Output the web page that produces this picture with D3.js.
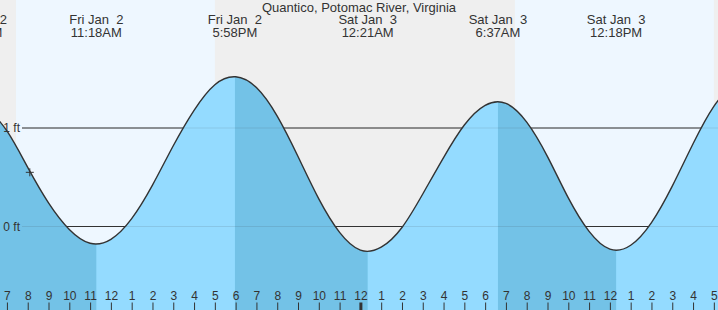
<!DOCTYPE html>
<html>
<head>
<meta charset="utf-8">
<script src="https://cdn.jsdelivr.net/npm/d3@7"></script>
<style>
  body { margin: 0; background: #efefef; }
  svg { display: block; font-family: "Liberation Sans", Arial, sans-serif; }
</style>
</head>
<body>
<svg></svg>
<script>
let width = 718, height = 310;

let title = "Quantico, Potomac River, Virginia";

// hourly predicted height (ft), from Fri Jan 2 06:00 to Sat Jan 3 18:00
let tideStart = "2026-01-02 06:00", tideEnd = "2026-01-03 19:00";
let tideHeights = [
  1.22, 0.97, 0.60, 0.24, -0.03, -0.17, -0.13, 0.08, 0.42, 0.82, 1.18, 1.44,
  1.52, 1.41, 1.12, 0.71, 0.28, -0.06, -0.24, -0.21, -0.01, 0.33, 0.70, 1.03,
  1.23, 1.25, 1.06, 0.71, 0.29, -0.05, -0.23, -0.19, 0.04, 0.41, 0.84, 1.22, 1.47
];

// high / low tides
let extremeTimes = ["2026-01-02 05:42", "2026-01-02 11:18", "2026-01-02 17:58",
                    "2026-01-03 00:21", "2026-01-03 06:37", "2026-01-03 12:18"];
let extremeTypes = ["H", "L", "H", "L", "H", "L"];

// daylight
let sunrise = ["2026-01-02 07:26", "2026-01-03 07:26"];
let sunset = ["2026-01-02 17:00", "2026-01-03 17:00"];

// current time marker
let nowTime = "2026-01-02 08:06", nowHeight = 0.55;

let gridLevels = [0, 1];

let parse = d3.timeParse("%Y-%m-%d %H:%M");

let svg = d3.select("svg")
    .attr("width", width)
    .attr("height", height);

let x = d3.scaleTime()
    .domain([parse("2026-01-02 06:40"), parse("2026-01-03 17:12")])
    .range([0, width]);

let y = d3.scaleLinear()
    .domain([0, 1])
    .range([226.5, 128]);

let tide = d3.timeHour.range(parse(tideStart), parse(tideEnd))
    .map((t, i) => ({ t: t, h: tideHeights[i] }));

let extremes = extremeTimes.map((s, i) => ({ t: parse(s), type: extremeTypes[i] }));

// sky: night gray, day light blue
svg.append("rect")
    .attr("width", width).attr("height", height)
    .attr("fill", "#efefef");

svg.append("g")
    .selectAll("rect")
    .data(sunrise)
    .enter()
    .append("rect")
    .attr("x", (d) => x(parse(d)))
    .attr("width", (d, i) => x(parse(sunset[i])) - x(parse(d)))
    .attr("y", 0)
    .attr("height", height)
    .attr("fill", "#eef7ff");

// grid lines (behind the water)
svg.append("g")
    .selectAll("line")
    .data(gridLevels)
    .enter()
    .append("line")
    .attr("x1", 22).attr("x2", width)
    .attr("y1", (d) => y(d)).attr("y2", (d) => y(d))
    .attr("stroke", "#333")
    .attr("stroke-width", 1);

let area = d3.area()
    .x((d) => x(d.t))
    .y0(height)
    .y1((d) => y(d.h))
    .curve(d3.curveNatural);

let line = d3.line()
    .x((d) => x(d.t))
    .y((d) => y(d.h))
    .curve(d3.curveNatural);

// falling tide (high -> low) is the darker blue
let falling = [];
extremes.forEach((e, i) => {
    if (e.type == "H" && extremes[i + 1]) falling.push([e.t, extremes[i + 1].t]);
});

let defs = svg.append("defs");
defs.append("clipPath")
    .attr("id", "fallclip")
    .selectAll("rect")
    .data(falling)
    .enter()
    .append("rect")
    .attr("x", (d) => x(d[0]))
    .attr("width", (d) => x(d[1]) - x(d[0]))
    .attr("y", 0)
    .attr("height", height);

svg.append("path")
    .datum(tide)
    .attr("d", area)
    .attr("fill", "#94dbff");

svg.append("path")
    .datum(tide)
    .attr("d", area)
    .attr("fill", "#73c2e7")
    .attr("clip-path", "url(#fallclip)");

// grid lines show faintly through the water
svg.append("g")
    .selectAll("line")
    .data(gridLevels)
    .enter()
    .append("line")
    .attr("x1", 22).attr("x2", width)
    .attr("y1", (d) => y(d)).attr("y2", (d) => y(d))
    .attr("stroke", "#333")
    .attr("stroke-opacity", 0.12);

svg.append("path")
    .datum(tide)
    .attr("d", line)
    .attr("fill", "none")
    .attr("stroke", "#333")
    .attr("stroke-width", 1.4);

// level labels sit on top of the water
svg.append("g")
    .selectAll("text")
    .data(gridLevels)
    .enter()
    .append("text")
    .attr("x", 20)
    .attr("y", (d) => y(d))
    .attr("dy", "0.36em")
    .attr("text-anchor", "end")
    .attr("font-size", 12)
    .attr("fill", "#333")
    .text((d) => d + " ft");

// current time cross
let nx = x(parse(nowTime)), ny = y(nowHeight);
svg.append("path")
    .attr("d", "M" + (nx - 4) + "," + ny + "H" + (nx + 4) + "M" + nx + "," + (ny - 4) + "V" + (ny + 4))
    .attr("stroke", "#333")
    .attr("stroke-width", 1)
    .attr("fill", "none");

// title and high/low labels
svg.append("text")
    .attr("x", width / 2)
    .attr("y", 12)
    .attr("text-anchor", "middle")
    .attr("font-size", 13)
    .attr("fill", "#333")
    .text(title);

let fmtDay = d3.timeFormat("%a %b %e");
let fmtTime = d3.timeFormat("%-I:%M%p");

let labels = svg.append("g")
    .selectAll("text")
    .data(extremes)
    .enter()
    .append("text")
    .attr("text-anchor", "middle")
    .attr("font-size", 13)
    .attr("fill", "#333")
    .style("white-space", "pre")
    .attr("xml:space", "preserve");

labels.append("tspan")
    .attr("x", (d) => x(d.t))
    .attr("y", 24)
    .text((d) => fmtDay(d.t));

labels.append("tspan")
    .attr("x", (d) => x(d.t))
    .attr("y", 36.5)
    .text((d) => fmtTime(d.t));

// hour axis along the bottom
let axis = svg.append("g")
    .attr("transform", "translate(0," + height + ")")
    .call(d3.axisTop(x)
        .ticks(d3.timeHour.every(1))
        .tickSize(7.5)
        .tickPadding(2.5)
        .tickFormat(d3.timeFormat("%-I")));

axis.select(".domain").remove();
axis.selectAll("text")
    .attr("font-size", 12)
    .attr("font-family", "Liberation Sans, Arial, sans-serif")
    .attr("fill", "#333");
axis.selectAll("line")
    .attr("stroke", "#333")
    .attr("stroke-width", (d) => d.getHours() == 0 ? 3 : 1);
</script>
</body>
</html>
